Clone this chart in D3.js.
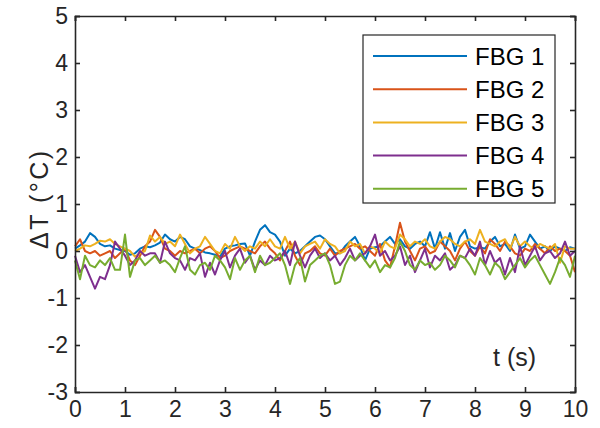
<!DOCTYPE html>
<html><head><meta charset="utf-8">
<script src="https://cdn.jsdelivr.net/npm/d3@7"></script>
<style>body{margin:0;background:#fff}svg{display:block}text{font-family:"Liberation Sans",Arial,sans-serif}</style>
</head><body><svg id="c" width="600" height="428"></svg>
<script>
const seriesNames = ["FBG 1","FBG 2","FBG 3","FBG 4","FBG 5"];
const colors = ["#0072BD","#D95319","#EDB120","#7E2F8E","#77AC30"];
const xTicks = [0,1,2,3,4,5,6,7,8,9,10];
const yTicks = [-3,-2,-1,0,1,2,3,4,5];
const dt = 0.1;
const fbg1 = [0.05,0.12,0.2,0.38,0.3,0.15,0.1,0.12,0.05,0.02,
 0.0,-0.08,-0.05,0.05,0.1,0.08,0.12,0.18,0.35,0.25,
 0.2,0.3,0.25,0.1,0.05,0.02,-0.03,-0.05,-0.08,-0.12,
 0.05,0.1,0.12,0.15,0.16,-0.1,0.2,0.45,0.55,0.4,
 0.35,0.2,-0.1,0.05,-0.05,0.0,0.1,0.2,0.3,0.33,
 0.25,0.1,-0.05,-0.05,0.1,0.2,0.3,0.1,-0.2,0.05,
 0.08,0.1,0.2,0.3,0.15,0.25,0.1,0.05,0.15,0.2,
 0.1,0.4,0.05,0.4,0.05,0.38,0.0,0.3,0.45,0.1,
 0.05,0.08,0.05,0.2,0.3,0.1,0.15,0.0,0.35,0.05,
 0.1,0.35,0.2,0.05,0.1,0.0,0.1,0.05,0.0,0.08,0.05];
const fbg2 = [0.1,0.25,0.0,-0.05,0.0,-0.1,-0.05,0.0,-0.15,-0.05,
 0.05,-0.2,-0.3,-0.1,0.1,0.2,0.45,0.3,0.05,0.0,
 -0.1,0.0,-0.05,0.0,0.05,-0.05,0.05,0.1,0.0,-0.15,
 -0.1,0.0,0.05,0.1,0.05,0.0,-0.05,0.1,0.2,0.05,
 -0.05,-0.2,0.0,0.2,-0.1,-0.3,-0.05,0.0,0.1,-0.05,
 -0.1,0.05,-0.1,0.0,0.05,0.1,0.15,0.05,0.1,0.0,
 -0.1,0.15,-0.2,-0.35,0.1,0.6,0.2,0.0,-0.2,0.05,
 0.1,-0.05,0.0,0.2,0.1,0.0,-0.2,0.05,0.2,0.0,
 -0.1,0.1,-0.05,0.25,0.15,0.0,0.2,0.1,-0.05,-0.1,
 0.05,0.0,0.15,0.05,-0.05,0.1,0.0,0.05,0.0,-0.1,-0.45];
const fbg3 = [0.0,0.05,0.12,0.1,0.15,0.22,0.2,0.25,0.15,0.1,
 0.05,0.0,-0.12,-0.05,0.0,0.33,0.2,0.3,0.15,0.2,
 0.1,0.35,0.15,-0.05,0.05,0.1,0.3,0.15,0.0,-0.05,
 0.15,0.05,0.3,0.1,0.0,0.1,0.05,0.2,0.1,0.25,
 0.1,0.05,0.3,0.05,0.2,-0.05,0.1,0.15,0.2,0.05,
 0.25,0.15,0.1,-0.05,0.0,0.2,0.1,0.15,-0.05,0.1,
 0.05,-0.05,0.2,0.1,0.05,0.35,0.25,0.1,0.2,0.15,
 0.25,0.1,0.05,0.2,0.3,0.25,0.15,0.1,0.2,0.25,
 0.15,0.45,0.2,0.15,0.1,0.2,0.25,0.05,0.3,0.1,
 0.2,0.1,0.05,0.15,0.1,0.05,0.15,-0.25,0.1,0.05,0.05];
const fbg4 = [-0.1,-0.45,-0.3,-0.55,-0.8,-0.55,-0.6,-0.3,0.2,0.05,
 -0.1,-0.3,-0.2,0.0,-0.1,-0.05,-0.05,-0.25,0.2,-0.05,
 -0.15,-0.2,-0.4,-0.15,-0.2,-0.05,-0.55,-0.25,-0.5,-0.2,
 0.0,-0.35,-0.1,0.05,-0.25,-0.1,-0.4,-0.2,-0.3,-0.1,
 -0.2,-0.15,0.0,-0.3,0.2,-0.1,-0.35,-0.1,0.05,-0.15,
 -0.05,-0.2,-0.1,-0.3,-0.15,0.05,-0.2,-0.1,-0.05,0.1,
 0.35,-0.1,0.0,-0.2,-0.1,0.1,-0.3,-0.1,-0.45,-0.2,
 0.05,-0.35,-0.1,-0.2,-0.05,-0.4,-0.3,-0.1,-0.15,0.05,
 -0.1,0.2,-0.3,0.0,-0.25,-0.15,-0.5,-0.15,-0.45,0.1,
 -0.3,-0.1,0.1,-0.2,-0.05,0.0,-0.15,-0.05,0.2,-0.1,0.0];
const fbg5 = [-0.2,-0.6,-0.1,-0.3,-0.35,-0.2,-0.3,-0.15,-0.4,-0.4,
 0.35,-0.55,-0.2,-0.15,-0.3,-0.2,-0.1,-0.25,-0.2,-0.3,
 -0.45,-0.15,0.1,-0.4,-0.5,-0.3,-0.25,-0.4,-0.1,-0.2,
 -0.35,-0.6,-0.15,-0.4,-0.2,-0.1,-0.45,-0.1,-0.3,-0.25,
 -0.15,-0.05,-0.3,-0.7,-0.3,-0.15,-0.65,-0.3,-0.2,-0.1,
 -0.05,-0.3,-0.7,-0.65,-0.3,-0.1,-0.2,-0.05,-0.2,-0.35,
 -0.2,-0.45,-0.3,-0.35,-0.15,0.2,0.0,-0.3,-0.4,-0.2,
 -0.3,-0.25,-0.4,-0.3,-0.1,-0.2,-0.35,-0.1,-0.15,-0.3,
 -0.5,-0.15,-0.3,-0.5,-0.25,-0.35,-0.6,-0.45,-0.3,-0.15,
 -0.35,-0.2,-0.1,-0.3,-0.5,-0.7,-0.45,-0.15,-0.3,-0.55,-0.1];
const seriesData = [fbg1,fbg2,fbg3,fbg4,fbg5];

const L=75,R=575,T=16,B=392;
const svg=d3.select("#c");
const x=d3.scaleLinear().domain([0,10]).range([L,R]);
const y=d3.scaleLinear().domain([-3,5]).range([B,T]);
const axCol="#262626";

const line=d3.line().x((d,i)=>x(i*dt)).y(d=>y(d));
const g=svg.append("g");
seriesData.forEach((s,k)=>{
  g.append("path").datum(s).attr("d",line).attr("fill","none")
   .attr("stroke",colors[k]).attr("stroke-width",2).attr("stroke-linejoin","round");
});

// axes
const fs=23;
const ax=svg.append("g").attr("transform",`translate(0,${B})`)
  .call(d3.axisBottom(x).tickValues(xTicks).tickSize(-5).tickPadding(9).tickFormat(d3.format("d")));
const axT=svg.append("g").attr("transform",`translate(0,${T})`)
  .call(d3.axisTop(x).tickValues(xTicks).tickSize(-5).tickFormat(""));
const ay=svg.append("g").attr("transform",`translate(${L},0)`)
  .call(d3.axisLeft(y).tickValues(yTicks).tickSize(-5).tickPadding(7).tickFormat(d3.format("d")));
const ayR=svg.append("g").attr("transform",`translate(${R},0)`)
  .call(d3.axisRight(y).tickValues(yTicks).tickSize(-5).tickFormat(""));
[ax,axT,ay,ayR].forEach(a=>{
  a.select(".domain").attr("stroke",axCol).attr("stroke-width",1.6);
  a.selectAll(".tick line").attr("stroke",axCol).attr("stroke-width",1.6);
  a.selectAll("text").attr("fill",axCol).style("font-size",fs+"px").style("font-family","Liberation Sans, Arial, sans-serif");
});
ay.selectAll("text").text(d=>d<0?"-"+Math.abs(d):d);
ax.selectAll("text").attr("dy","0.71em");

// labels
svg.append("text").attr("transform",`translate(48,${(T+B)/2 - 4}) rotate(-90)`)
  .attr("text-anchor","middle").attr("fill",axCol).style("font-size","25px")
  .attr("textLength",98).attr("lengthAdjust","spacing").text("ΔT (°C)");
svg.append("text").attr("x",493).attr("y",366).attr("fill",axCol).style("font-size","25px").text("t (s)");

// legend
const lg=svg.append("g");
lg.append("rect").attr("x",363).attr("y",35).attr("width",192).attr("height",168)
  .attr("fill","#fff").attr("stroke",axCol).attr("stroke-width",1.2);
seriesNames.forEach((n,k)=>{
  const yy=56+k*33.2;
  lg.append("line").attr("x1",373).attr("x2",467).attr("y1",yy).attr("y2",yy)
    .attr("stroke",colors[k]).attr("stroke-width",2);
  lg.append("text").attr("x",475).attr("y",yy).attr("dy","0.36em").attr("fill","#000")
    .style("font-size","24px").text(n);
});
</script></body></html>
